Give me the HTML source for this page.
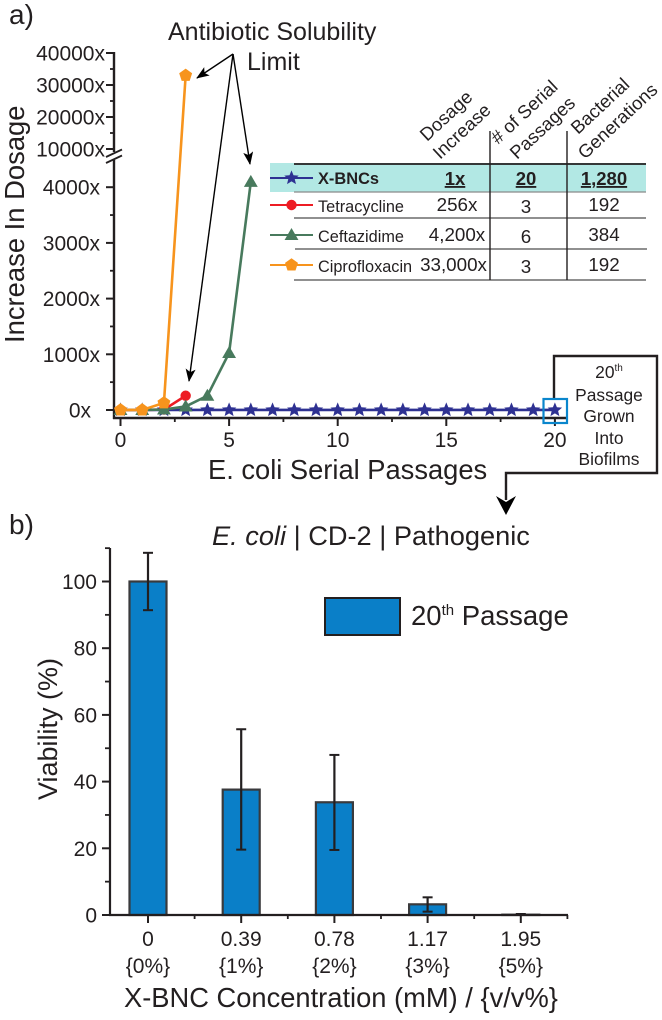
<!DOCTYPE html>
<html>
<head>
<meta charset="utf-8">
<title>Serial passage resistance and biofilm viability</title>
<style>
html,body{margin:0;padding:0;background:#fff;width:662px;height:1020px;overflow:hidden}
svg{display:block}
text{font-family:"Liberation Sans",sans-serif;fill:#231f20}
</style>
</head>
<body>
<svg id="fig" width="662" height="1020" viewBox="0 0 662 1020" xmlns="http://www.w3.org/2000/svg">
<defs>
<marker id="ah" markerWidth="13" markerHeight="10" refX="12" refY="5" orient="auto" markerUnits="userSpaceOnUse" viewBox="0 0 13 10">
<path d="M0 0L13 5L0 10L3 5Z" fill="#000"/>
</marker>
</defs>
<rect x="0" y="0" width="662" height="1020" fill="#fff"/>

<text x="9" y="24" font-size="28">a)</text>
<text x="168" y="40" font-size="25">Antibiotic Solubility</text>
<text x="247" y="70" font-size="25">Limit</text>
<g stroke="#000" stroke-width="1.4" fill="none">
<line x1="233" y1="54" x2="197" y2="78" marker-end="url(#ah)"/>
<line x1="233" y1="54" x2="250" y2="164" marker-end="url(#ah)"/>
<line x1="233" y1="54" x2="189" y2="381" marker-end="url(#ah)"/>
</g>

<g id="chartA"></g>

<g>
<rect x="270" y="163" width="376" height="29" fill="#b2e8e4"/>
<line x1="294" y1="164" x2="646" y2="164" stroke="#231f20" stroke-width="1.8"/>
<line x1="294" y1="192" x2="646" y2="192" stroke="#8a8a8a" stroke-width="1.2"/>
<line x1="294" y1="218" x2="646" y2="218" stroke="#808080" stroke-width="1.8"/>
<line x1="295" y1="249" x2="647" y2="249" stroke="#808080" stroke-width="1.8"/>
<line x1="294" y1="280" x2="646" y2="280" stroke="#808080" stroke-width="1.8"/>
<line x1="490" y1="131" x2="490" y2="280" stroke="#231f20" stroke-width="1.4"/>
<line x1="567" y1="131" x2="567" y2="280" stroke="#231f20" stroke-width="1.4"/>

<text transform="translate(427,142) rotate(-43)" font-size="18.500">Dosage</text>
<text transform="translate(440,160) rotate(-43)" font-size="18.500">Increase</text>
<text transform="translate(498,145) rotate(-43)" font-size="18.500"># of Serial</text>
<text transform="translate(517,160) rotate(-43)" font-size="18.500">Passages</text>
<text transform="translate(578,135) rotate(-43)" font-size="18.500">Bacterial</text>
<text transform="translate(585,160) rotate(-43)" font-size="18.500">Generations</text>

<text x="318" y="184" font-size="16.4" font-weight="bold">X-BNCs</text>
<text x="455" y="185" font-size="18.5" font-weight="bold" text-anchor="middle" text-decoration="underline">1x</text>
<text x="526" y="185" font-size="18.5" font-weight="bold" text-anchor="middle" text-decoration="underline">20</text>
<text x="604" y="185" font-size="18.5" font-weight="bold" text-anchor="middle" text-decoration="underline">1,280</text>

<text x="318" y="212" font-size="16.3">Tetracycline</text>
<text x="457" y="211" font-size="18.8" text-anchor="middle">256x</text>
<text x="526" y="213" font-size="18.8" text-anchor="middle">3</text>
<text x="604" y="211" font-size="18.8" text-anchor="middle">192</text>

<text x="318" y="242" font-size="16.3">Ceftazidime</text>
<text x="457" y="241" font-size="18.8" text-anchor="middle">4,200x</text>
<text x="526" y="243" font-size="18.8" text-anchor="middle">6</text>
<text x="604" y="241" font-size="18.8" text-anchor="middle">384</text>

<text x="318" y="272" font-size="16.3">Ciprofloxacin</text>
<text x="453.500" y="271" font-size="18.8" text-anchor="middle">33,000x</text>
<text x="526" y="273" font-size="18.8" text-anchor="middle">3</text>
<text x="604" y="271" font-size="18.8" text-anchor="middle">192</text>
<g id="tableKeys"></g>
</g>

<polyline points="554,399 554,356 657,356 657,473 506,473 506,500" fill="none" stroke="#231f20" stroke-width="2.4"/>
<path d="M496 496L506 502L516 496L506 515Z" fill="#000"/>
<rect x="543.500" y="399" width="23.500" height="24" fill="none" stroke="#0a86cc" stroke-width="2.2"/>
<g font-size="17.4" text-anchor="middle">
<text x="609" y="378">20<tspan font-size="10" dy="-7">th</tspan></text>
<text x="609" y="401">Passage</text>
<text x="609" y="422">Grown</text>
<text x="609" y="444">Into</text>
<text x="609" y="465">Biofilms</text>
</g>

<text x="9" y="534" font-size="28">b)</text>
<text x="212" y="545" font-size="27.200"><tspan font-style="italic">E. coli</tspan> | CD-2 | Pathogenic</text>
<g id="chartB"></g>
<rect x="325" y="598" width="75" height="37" fill="#0a7fc8" stroke="#231f20" stroke-width="2"/>
<text x="411" y="625" font-size="27.500">20<tspan font-size="15" dy="-10">th</tspan><tspan dy="10"> Passage</tspan></text>
</svg>

<script>
// Panel A data
var passages = [0,1,2,3,4,5,6,7,8,9,10,11,12,13,14,15,16,17,18,19,20];
var xbncValues = [1,1,1,1,1,1,1,1,1,1,1,1,1,1,1,1,1,1,1,1,1];
var tetracyclineValues = [1,1,8,256];
var ceftazidimeValues = [1,1,8,64,256,1024,4096];
var ciprofloxacinValues = [1,1,128,33000];
var xTickValues = [0,5,10,15,20];
var lowerYTicks = [0,1000,2000,3000,4000];
var lowerYMinor = [500,1500,2500,3500];
var upperYTicks = [10000,20000,30000,40000];
var upperYMinor = [15000,25000,35000];

// Panel B data
var concentrationLabels = ['0','0.39','0.78','1.17','1.95'];
var percentLabels = ['{0%}','{1%}','{2%}','{3%}','{5%}'];
var viability = [100,37.6,33.8,3.2,0.1];
var errorHigh = [108.6,55.7,48,5.3,0.3];
var errorLow = [91.4,19.6,19.5,1,0];
var viabilityTicks = [0,20,40,60,80,100];
var viabilityMinor = [10,30,50,70,90,110];

var NS = 'http://www.w3.org/2000/svg';
var INK = '#231f20';
function mk(parent, tag, attrs, txt) {
  var el = document.createElementNS(NS, tag);
  for (var k in attrs) el.setAttribute(k, attrs[k]);
  if (txt !== undefined) el.textContent = txt;
  parent.appendChild(el);
  return el;
}
// Panel A axis functions
function ax(p) { return 120.5 + p * 21.72; }
function ay(v) {
  if (v <= 5000) return 410 - v * 0.0557;
  return 149 - (v - 10000) * 0.0032;
}
// Panel B axis functions
function bx(i) { return 148 + i * 93.2; }
function by(v) { return 915 - v * 3.335; }

function polyPoints(n, r, cx, cy, inner) {
  var pts = [];
  var total = inner ? n * 2 : n;
  for (var i = 0; i < total; i++) {
    var rad = inner && i % 2 ? inner : r;
    var a = -Math.PI / 2 + i * 2 * Math.PI / total;
    pts.push((cx + rad * Math.cos(a)).toFixed(2) + ',' + (cy + rad * Math.sin(a)).toFixed(2));
  }
  return pts.join(' ');
}
function marker(parent, kind, cx, cy, color) {
  if (kind === 'circle') return mk(parent, 'circle', {cx: cx, cy: cy, r: 5.2, fill: color});
  if (kind === 'triangle') return mk(parent, 'polygon', {points: polyPoints(3, 8, cx, cy + 1), fill: color});
  if (kind === 'pentagon') return mk(parent, 'polygon', {points: polyPoints(5, 6.8, cx, cy), fill: color});
  return mk(parent, 'polygon', {points: polyPoints(5, 7.6, cx, cy, 3.4), fill: color});
}

var chartA = document.getElementById('chartA');
var chartB = document.getElementById('chartB');
var tableKeys = document.getElementById('tableKeys');

// Panel A axes
var yUpper = mk(chartA, 'line', {x1: 114, y1: 52, x2: 114, y2: 152, stroke: INK, 'stroke-width': 2.4});


var yLower = mk(chartA, 'line', {x1: 114, y1: 160, x2: 114, y2: 419, stroke: INK, 'stroke-width': 2.4});


var xAxisA = mk(chartA, 'line', {x1: 113, y1: 418, x2: 567, y2: 418, stroke: INK, 'stroke-width': 2.4});


var brk1 = mk(chartA, 'line', {x1: 106, y1: 157, x2: 122, y2: 149.500, stroke: INK, 'stroke-width': 1.8});


var brk2 = mk(chartA, 'line', {x1: 106, y1: 163, x2: 122, y2: 155.500, stroke: INK, 'stroke-width': 1.8});



upperYTicks.concat(lowerYTicks).forEach(function (v) {
  var t = mk(chartA, 'line', {x1: 106, y1: ay(v), x2: 114, y2: ay(v), stroke: INK, 'stroke-width': 2});
  
  
  var right = v >= 10000 ? 105 : (v === 0 ? 91 : 100);
  var l = mk(chartA, 'text', {x: right, y: ay(v) + 7.500, 'font-size': 21, 'text-anchor': 'end'}, v + 'x');
  
  
});
upperYMinor.concat(lowerYMinor).forEach(function (v) {
  var t = mk(chartA, 'line', {x1: 110, y1: ay(v), x2: 114, y2: ay(v), stroke: INK, 'stroke-width': 1.8});
  
  
});
xTickValues.forEach(function (v) {
  var t = mk(chartA, 'line', {x1: ax(v), y1: 418, x2: ax(v), y2: 426, stroke: INK, 'stroke-width': 2});
  
  
  var l = mk(chartA, 'text', {x: ax(v), y: 447, 'font-size': 21, 'text-anchor': 'middle'}, String(v));
  
  
  if (v < 20) {
    var m = mk(chartA, 'line', {x1: ax(v + 2.5), y1: 418, x2: ax(v + 2.5), y2: 422, stroke: INK, 'stroke-width': 1.8});
    
    
  }
});
var xTitle = mk(chartA, 'text', {x: 208, y: 479, 'font-size': 27.300}, 'E. coli Serial Passages');


var yTitle = mk(chartA, 'text', {transform: 'translate(24,343) rotate(-90)', 'font-size': 27.400}, 'Increase In Dosage');



// Panel A series
function drawSeries(values, color, kind, name) {
  var g = mk(chartA, 'g', {});
  
  
  var pts = values.map(function (v, i) { return ax(passages[i]).toFixed(2) + ',' + ay(v).toFixed(2); });
  var line = mk(g, 'polyline', {points: pts.join(' '), fill: 'none', stroke: color, 'stroke-width': 2.6});
  
  
  values.forEach(function (v, i) {
    var m = marker(g, kind, ax(passages[i]), ay(v), color);
    
    
  });
}
drawSeries(xbncValues, '#2e3192', 'star', 'series-x-bncs');
drawSeries(tetracyclineValues, '#ed1c24', 'circle', 'series-tetracycline');
drawSeries(ceftazidimeValues, '#487a5d', 'triangle', 'series-ceftazidime');
drawSeries(ciprofloxacinValues, '#f7941d', 'pentagon', 'series-ciprofloxacin');

// Table legend keys
function tableKey(y, color, kind, name) {
  var l = mk(tableKeys, 'line', {x1: 270, y1: y, x2: 313, y2: y, stroke: color, 'stroke-width': 2});
  
  
  var m = marker(tableKeys, kind, 291.500, y, color);
  
  
}
tableKey(178, '#2e3192', 'star', 'x-bncs');
tableKey(205, '#ed1c24', 'circle', 'tetracycline');
tableKey(235, '#487a5d', 'triangle', 'ceftazidime');
tableKey(265, '#f7941d', 'pentagon', 'ciprofloxacin');

// Panel B bars
viability.forEach(function (v, i) {
  var bw = 37;
  var bar = mk(chartB, 'rect', {x: bx(i) - bw / 2, y: by(v), width: bw, height: by(0) - by(v), fill: '#0a7fc8', stroke: '#3a3a3c', 'stroke-width': 2.2});
  
  
  var stem = mk(chartB, 'line', {x1: bx(i), y1: by(errorHigh[i]), x2: bx(i), y2: by(errorLow[i]), stroke: INK, 'stroke-width': 2.2});
  
  
  var capHigh = mk(chartB, 'line', {x1: bx(i) - 5, y1: by(errorHigh[i]), x2: bx(i) + 5, y2: by(errorHigh[i]), stroke: INK, 'stroke-width': 2});
  
  
  var capLow = mk(chartB, 'line', {x1: bx(i) - 5, y1: by(errorLow[i]), x2: bx(i) + 5, y2: by(errorLow[i]), stroke: INK, 'stroke-width': 2});
  
  
});

// Panel B axes
var yAxisB = mk(chartB, 'line', {x1: 110, y1: 548, x2: 110, y2: 916, stroke: INK, 'stroke-width': 2.2});


var xAxisB = mk(chartB, 'line', {x1: 109, y1: 915, x2: 568, y2: 915, stroke: INK, 'stroke-width': 2.2});


viabilityTicks.forEach(function (v) {
  var t = mk(chartB, 'line', {x1: 102, y1: by(v), x2: 110, y2: by(v), stroke: INK, 'stroke-width': 2});
  
  
  var l = mk(chartB, 'text', {x: 97, y: by(v) + 7.500, 'font-size': 21, 'text-anchor': 'end'}, String(v));
  
  
});
viabilityMinor.forEach(function (v) {
  var t = mk(chartB, 'line', {x1: 105, y1: by(v), x2: 110, y2: by(v), stroke: INK, 'stroke-width': 1.8});
  
  
});
concentrationLabels.forEach(function (c, i) {
  var t = mk(chartB, 'line', {x1: bx(i), y1: 915, x2: bx(i), y2: 923, stroke: INK, 'stroke-width': 2});
  
  
  var m = mk(chartB, 'line', {x1: bx(i + 0.5), y1: 915, x2: bx(i + 0.5), y2: 919, stroke: INK, 'stroke-width': 1.8});
  
  
  var l = mk(chartB, 'text', {x: bx(i), y: 946, 'font-size': 21, 'text-anchor': 'middle'}, c);
  
  
  var p = mk(chartB, 'text', {x: bx(i), y: 973, 'font-size': 21, 'text-anchor': 'middle'}, percentLabels[i]);
  
  
});
var bTitle = mk(chartB, 'text', {x: 124, y: 1007, 'font-size': 27.300}, 'X-BNC Concentration (mM) / {v/v%}');


var bY = mk(chartB, 'text', {transform: 'translate(57,800) rotate(-90)', 'font-size': 27}, 'Viability (%)');


</script>
</body>
</html>
